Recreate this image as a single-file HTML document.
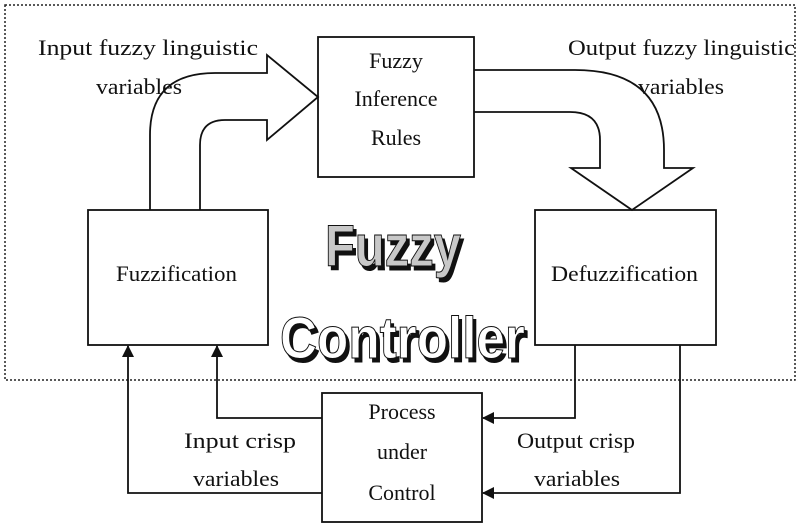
<!DOCTYPE html>
<html><head><style>
body{margin:0;background:#fff;}
svg{display:block;}
text{font-family:"Liberation Serif",serif;font-size:22px;fill:#111;}
.big{font-family:"Liberation Sans",sans-serif;font-weight:bold;font-size:58px;stroke:#111;stroke-width:1;}
</style></head><body>
<svg width="800" height="528" viewBox="0 0 800 528" xmlns="http://www.w3.org/2000/svg">
<defs><marker id="ah" markerWidth="12" markerHeight="12" refX="11" refY="6" orient="auto" markerUnits="userSpaceOnUse"><path d="M0,0 L12,6 L0,12 z" fill="#111"/></marker></defs>
<rect x="5" y="5" width="790" height="375" fill="none" stroke="#222" stroke-width="1.5" stroke-dasharray="2,2"/>
<g fill="none" stroke="#111" stroke-width="1.8">
<rect x="318" y="37" width="156" height="140"/>
<rect x="88" y="210" width="180" height="135"/>
<rect x="535" y="210" width="181" height="135"/>
<rect x="322" y="393" width="160" height="129"/>
<path d="M150,210 L150,135 Q150,73 215,73 L267,73 L267,55 L318,97 L267,140 L267,120 L225,120 Q200,120 200,145 L200,210"/>
<path d="M474,70 L575,70 Q664,70 664,150 L664,168 L693,168 L632,210 L571,168 L600,168 L600,140 Q600,112 570,112 L474,112"/>
<path d="M575,345 L575,418 L483,418" marker-end="url(#ah)"/>
<path d="M680,345 L680,493 L483,493" marker-end="url(#ah)"/>
<path d="M322,418 L217,418 L217,346" marker-end="url(#ah)"/>
<path d="M322,493 L128,493 L128,346" marker-end="url(#ah)"/>
</g>
<text x="396" y="68" text-anchor="middle">Fuzzy</text>
<text x="396" y="106" text-anchor="middle">Inference</text>
<text x="396" y="145" text-anchor="middle">Rules</text>
<text x="116" y="281" textLength="121" lengthAdjust="spacingAndGlyphs">Fuzzification</text>
<text x="551" y="281" textLength="147" lengthAdjust="spacingAndGlyphs">Defuzzification</text>
<text x="402" y="419" text-anchor="middle">Process</text>
<text x="402" y="459" text-anchor="middle">under</text>
<text x="402" y="500" text-anchor="middle">Control</text>
<text x="38" y="55" textLength="220" lengthAdjust="spacingAndGlyphs">Input fuzzy linguistic</text>
<text x="96" y="94" textLength="86" lengthAdjust="spacingAndGlyphs">variables</text>
<text x="568" y="55" textLength="227" lengthAdjust="spacingAndGlyphs">Output fuzzy linguistic</text>
<text x="638" y="94" textLength="86" lengthAdjust="spacingAndGlyphs">variables</text>
<text x="184" y="448" textLength="112" lengthAdjust="spacingAndGlyphs">Input crisp</text>
<text x="193" y="486" textLength="86" lengthAdjust="spacingAndGlyphs">variables</text>
<text x="517" y="448" textLength="118" lengthAdjust="spacingAndGlyphs">Output crisp</text>
<text x="534" y="486" textLength="86" lengthAdjust="spacingAndGlyphs">variables</text>
<text class="big" x="328" y="270" textLength="136" lengthAdjust="spacingAndGlyphs" style="fill:#111">Fuzzy</text>
<text class="big" x="325" y="266" textLength="136" lengthAdjust="spacingAndGlyphs" style="fill:#c8c8c8">Fuzzy</text>
<text class="big" x="283" y="362" textLength="245" lengthAdjust="spacingAndGlyphs" style="fill:#111">Controller</text>
<text class="big" x="280" y="358" textLength="245" lengthAdjust="spacingAndGlyphs" style="fill:#fff">Controller</text>
</svg>
</body></html>
